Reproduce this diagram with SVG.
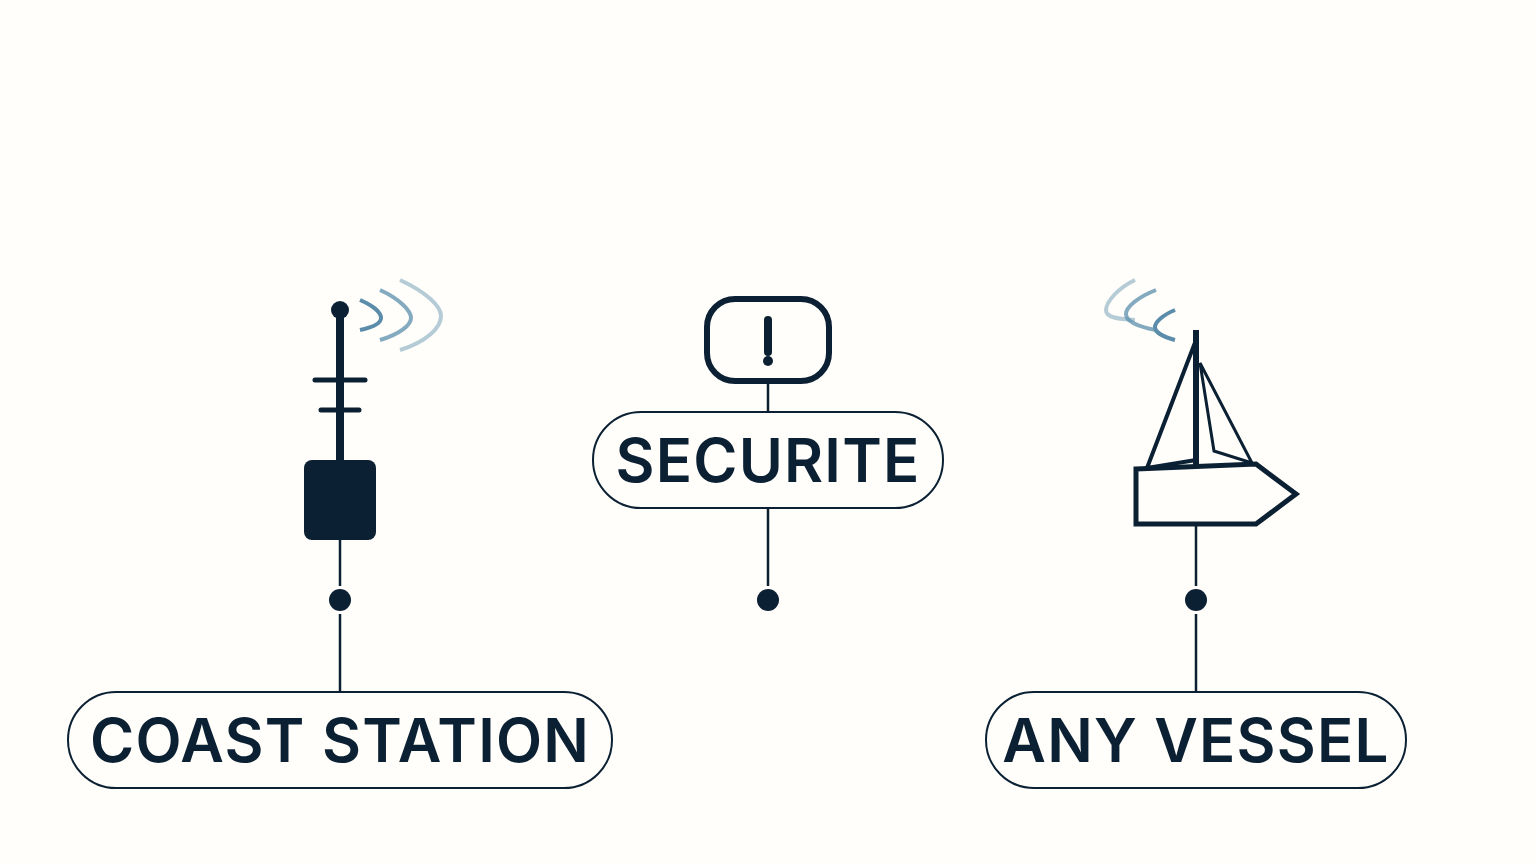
<svg xmlns="http://www.w3.org/2000/svg" width="1536" height="864" viewBox="0 0 1536 864">
<style>
.ink{fill:#0b2033}
.line{fill:none;stroke:#0b2033;stroke-width:2.5}
.pill{fill:#fffefa;stroke:#0b2033;stroke-width:2}
.lbl{font-family:Inter,"Liberation Sans",sans-serif;font-size:60px;font-weight:600;fill:#0b2033;text-anchor:middle;letter-spacing:1.2px}
.wave{fill:none;stroke:#5b8dab;stroke-width:4;stroke-linecap:butt}
.o{fill:none;stroke:#0b2033;stroke-linejoin:miter}
</style>
<rect width="1536" height="864" fill="#fffefa"/>
<g id="connectors">
<path class="line" d="M340 540V586M340 614V692M768 382V412M768 508V586M1196 526V586M1196 614V692"/>
</g>
<g id="coast-station-icon">
<circle class="ink" cx="340" cy="310" r="9"/>
<rect class="ink" x="336" y="310" width="8" height="152"/>
<path d="M315 380H365M321 410H359" fill="none" stroke="#0b2033" stroke-width="5" stroke-linecap="round"/>
<rect class="ink" x="304" y="460" width="72" height="80" rx="8"/>
<path class="wave" d="M360 300C374 306 381 313 381 318C381 323 374 327 360 330"/>
<path class="wave" opacity=".75" d="M380 290C400 299 411 311 411 318C411 325 400 334 380 340"/>
<path class="wave" opacity=".45" d="M400 280C426 292 441 306 441 316C441 328 426 342 400 350"/>
</g>
<g id="vessel-icon">
<path class="wave" opacity=".45" d="M1135 280C1118 288 1106 302 1106 310C1106 317 1116 319 1135 320"/>
<path class="wave" opacity=".75" d="M1156 290C1138 297 1126 307 1126 314C1126 322 1140 327 1156 330"/>
<path class="wave" d="M1175 310C1163 315 1155 322 1155 327C1155 332 1163 337 1175 340"/>
<rect class="ink" x="1193" y="330" width="6" height="135"/>
<path class="o" stroke-width="4" d="M1196 340L1147 468L1196 460"/>
<path class="o" stroke-width="3" d="M1200 363L1252 463L1214 451Z"/>
<path class="o" stroke-width="5" d="M1136 469L1256 464L1296 494L1256 524H1136Z"/>
</g>
<g id="securite-icon">
<rect x="707" y="299" width="122" height="82" rx="28" fill="none" stroke="#0b2033" stroke-width="6"/>
<path d="M768 320V352" fill="none" stroke="#0b2033" stroke-width="8" stroke-linecap="round"/>
<circle class="ink" cx="768" cy="361" r="5"/>
</g>
<g id="securite-label">
<rect class="pill" x="593" y="412" width="350" height="96" rx="48"/>
<text class="lbl" x="768" y="482">SECURITE</text>
</g>
<g id="coast-station-label">
<rect class="pill" x="68" y="692" width="544" height="96" rx="48"/>
<text class="lbl" x="340" y="762">COAST STATION</text>
</g>
<g id="any-vessel-label">
<rect class="pill" x="986" y="692" width="420" height="96" rx="48"/>
<text class="lbl" x="1196" y="762">ANY VESSEL</text>
</g>
<g id="dots">
<circle class="ink" cx="340" cy="600" r="11"/>
<circle class="ink" cx="768" cy="600" r="11"/>
<circle class="ink" cx="1196" cy="600" r="11"/>
</g>
</svg>
